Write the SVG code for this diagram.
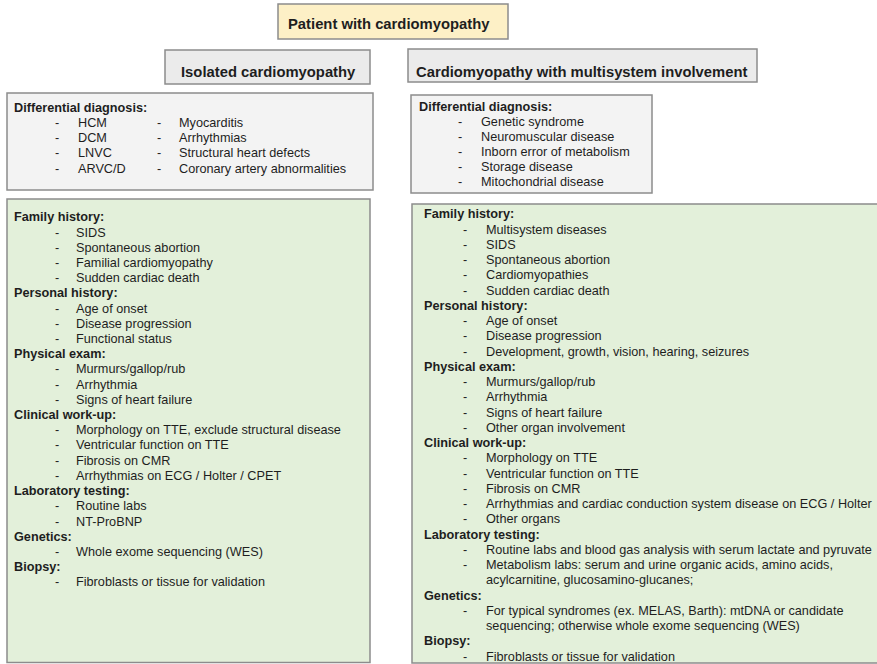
<svg xmlns="http://www.w3.org/2000/svg" width="877" height="664" viewBox="0 0 877 664">
<style>
text{font-family:"Liberation Sans",Arial,sans-serif;fill:#1e1e1e}
.t{font-size:14.8px;font-weight:bold}
.h{font-size:12.7px;font-weight:bold}
.i{font-size:12.7px}
.box{stroke:#8c8c8c;stroke-width:1.5}
.yel{fill:#fdf0c6}
.gry{fill:#ebebeb}
.dd{fill:#f3f3f3}
.grn{fill:#e3f0da}
</style>
<rect width="877" height="664" fill="#ffffff"/>
<g id="patient">
<rect class="box yel" x="278" y="4" width="230" height="35"/>
<text class="t" x="288" y="28.5">Patient with cardiomyopathy</text>
</g>
<g id="isolated">
<rect class="box gry" x="165" y="50" width="205" height="34"/>
<text class="t" x="181" y="77">Isolated cardiomyopathy</text>
</g>
<g id="multisystem">
<rect class="box gry" x="408" y="49" width="349" height="33"/>
<text class="t" x="416" y="77">Cardiomyopathy with multisystem involvement</text>
</g>
<g id="left-dd">
<rect class="box dd" x="7" y="93" width="366" height="97"/>
<text class="h" x="14" y="112">Differential diagnosis:</text>
<text class="i" x="55" y="127">-</text><text class="i" x="78" y="127">HCM</text>
<text class="i" x="157" y="127">-</text><text class="i" x="179" y="127">Myocarditis</text>
<text class="i" x="55" y="142.2">-</text><text class="i" x="78" y="142.2">DCM</text>
<text class="i" x="157" y="142.2">-</text><text class="i" x="179" y="142.2">Arrhythmias</text>
<text class="i" x="55" y="157.4">-</text><text class="i" x="78" y="157.4">LNVC</text>
<text class="i" x="157" y="157.4">-</text><text class="i" x="179" y="157.4">Structural heart defects</text>
<text class="i" x="55" y="172.6">-</text><text class="i" x="78" y="172.6">ARVC/D</text>
<text class="i" x="157" y="172.6">-</text><text class="i" x="179" y="172.6">Coronary artery abnormalities</text>
</g>
<g id="right-dd">
<rect class="box dd" x="411" y="95" width="241" height="98"/>
<text class="h" x="419" y="110.5">Differential diagnosis:</text>
<text class="i" x="458" y="125.5">-</text><text class="i" x="481" y="125.5">Genetic syndrome</text>
<text class="i" x="458" y="140.5">-</text><text class="i" x="481" y="140.5">Neuromuscular disease</text>
<text class="i" x="458" y="155.5">-</text><text class="i" x="481" y="155.5">Inborn error of metabolism</text>
<text class="i" x="458" y="170.5">-</text><text class="i" x="481" y="170.5">Storage disease</text>
<text class="i" x="458" y="185.5">-</text><text class="i" x="481" y="185.5">Mitochondrial disease</text>
</g>
<g id="left-workup">
<rect class="box grn" x="7" y="199" width="363" height="463.5"/>
<text class="h" x="14" y="221.3">Family history:</text>
<text class="i" x="55" y="236.5">-</text><text class="i" x="76" y="236.5">SIDS</text>
<text class="i" x="55" y="251.7">-</text><text class="i" x="76" y="251.7">Spontaneous abortion</text>
<text class="i" x="55" y="266.9">-</text><text class="i" x="76" y="266.9">Familial cardiomyopathy</text>
<text class="i" x="55" y="282.1">-</text><text class="i" x="76" y="282.1">Sudden cardiac death</text>
<text class="h" x="14" y="297.4">Personal history:</text>
<text class="i" x="55" y="312.6">-</text><text class="i" x="76" y="312.6">Age of onset</text>
<text class="i" x="55" y="327.8">-</text><text class="i" x="76" y="327.8">Disease progression</text>
<text class="i" x="55" y="343">-</text><text class="i" x="76" y="343">Functional status</text>
<text class="h" x="14" y="358.2">Physical exam:</text>
<text class="i" x="55" y="373.4">-</text><text class="i" x="76" y="373.4">Murmurs/gallop/rub</text>
<text class="i" x="55" y="388.6">-</text><text class="i" x="76" y="388.6">Arrhythmia</text>
<text class="i" x="55" y="403.8">-</text><text class="i" x="76" y="403.8">Signs of heart failure</text>
<text class="h" x="14" y="419">Clinical work-up:</text>
<text class="i" x="55" y="434.2">-</text><text class="i" x="76" y="434.2">Morphology on TTE, exclude structural disease</text>
<text class="i" x="55" y="449.4">-</text><text class="i" x="76" y="449.4">Ventricular function on TTE</text>
<text class="i" x="55" y="464.6">-</text><text class="i" x="76" y="464.6">Fibrosis on CMR</text>
<text class="i" x="55" y="479.9">-</text><text class="i" x="76" y="479.9">Arrhythmias on ECG / Holter / CPET</text>
<text class="h" x="14" y="495.1">Laboratory testing:</text>
<text class="i" x="55" y="510.3">-</text><text class="i" x="76" y="510.3">Routine labs</text>
<text class="i" x="55" y="525.5">-</text><text class="i" x="76" y="525.5">NT-ProBNP</text>
<text class="h" x="14" y="540.7">Genetics:</text>
<text class="i" x="55" y="555.9">-</text><text class="i" x="76" y="555.9">Whole exome sequencing (WES)</text>
<text class="h" x="14" y="571.1">Biopsy:</text>
<text class="i" x="55" y="586.3">-</text><text class="i" x="76" y="586.3">Fibroblasts or tissue for validation</text>
</g>
<g id="right-workup">
<rect class="box grn" x="412" y="204" width="470" height="459"/>
<text class="h" x="424" y="218.3">Family history:</text>
<text class="i" x="463" y="233.5">-</text><text class="i" x="486" y="233.5">Multisystem diseases</text>
<text class="i" x="463" y="248.8">-</text><text class="i" x="486" y="248.8">SIDS</text>
<text class="i" x="463" y="264">-</text><text class="i" x="486" y="264">Spontaneous abortion</text>
<text class="i" x="463" y="279.3">-</text><text class="i" x="486" y="279.3">Cardiomyopathies</text>
<text class="i" x="463" y="294.5">-</text><text class="i" x="486" y="294.5">Sudden cardiac death</text>
<text class="h" x="424" y="309.8">Personal history:</text>
<text class="i" x="463" y="325">-</text><text class="i" x="486" y="325">Age of onset</text>
<text class="i" x="463" y="340.3">-</text><text class="i" x="486" y="340.3">Disease progression</text>
<text class="i" x="463" y="355.5">-</text><text class="i" x="486" y="355.5">Development, growth, vision, hearing, seizures</text>
<text class="h" x="424" y="370.8">Physical exam:</text>
<text class="i" x="463" y="386">-</text><text class="i" x="486" y="386">Murmurs/gallop/rub</text>
<text class="i" x="463" y="401.3">-</text><text class="i" x="486" y="401.3">Arrhythmia</text>
<text class="i" x="463" y="416.5">-</text><text class="i" x="486" y="416.5">Signs of heart failure</text>
<text class="i" x="463" y="431.8">-</text><text class="i" x="486" y="431.8">Other organ involvement</text>
<text class="h" x="424" y="447">Clinical work-up:</text>
<text class="i" x="463" y="462.3">-</text><text class="i" x="486" y="462.3">Morphology on TTE</text>
<text class="i" x="463" y="477.5">-</text><text class="i" x="486" y="477.5">Ventricular function on TTE</text>
<text class="i" x="463" y="492.8">-</text><text class="i" x="486" y="492.8">Fibrosis on CMR</text>
<text class="i" x="463" y="508">-</text><text class="i" x="486" y="508">Arrhythmias and cardiac conduction system disease on ECG / Holter</text>
<text class="i" x="463" y="523.3">-</text><text class="i" x="486" y="523.3">Other organs</text>
<text class="h" x="424" y="538.5">Laboratory testing:</text>
<text class="i" x="463" y="553.8">-</text><text class="i" x="486" y="553.8">Routine labs and blood gas analysis with serum lactate and pyruvate</text>
<text class="i" x="463" y="569">-</text><text class="i" x="486" y="569">Metabolism labs: serum and urine organic acids, amino acids,</text>
<text class="i" x="486" y="584.3">acylcarnitine, glucosamino-glucanes;</text>
<text class="h" x="424" y="599.5">Genetics:</text>
<text class="i" x="463" y="614.8">-</text><text class="i" x="486" y="614.8">For typical syndromes (ex. MELAS, Barth): mtDNA or candidate</text>
<text class="i" x="486" y="630">sequencing; otherwise whole exome sequencing (WES)</text>
<text class="h" x="424" y="645.3">Biopsy:</text>
<text class="i" x="463" y="660.5">-</text><text class="i" x="486" y="660.5">Fibroblasts or tissue for validation</text>
</g>
</svg>
